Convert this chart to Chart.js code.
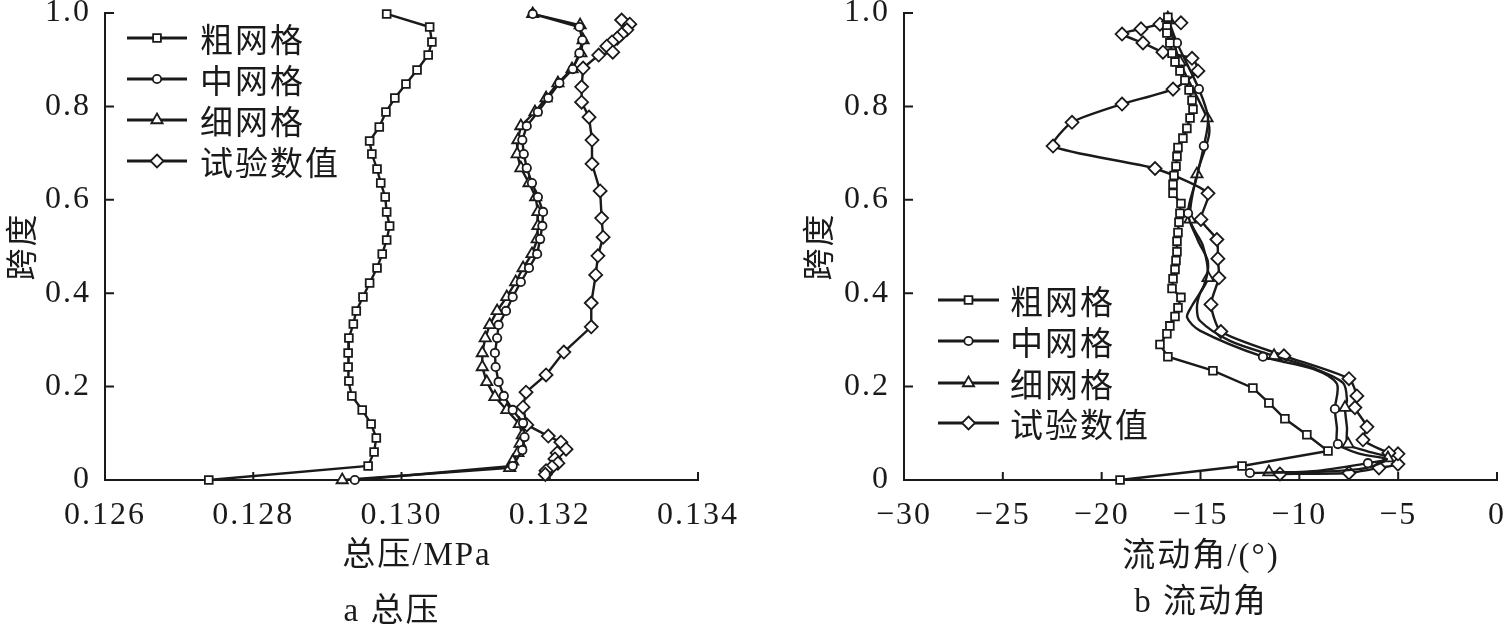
<!DOCTYPE html>
<html>
<head>
<meta charset="utf-8">
<script src="https://cdn.jsdelivr.net/npm/chart.js@4.4.1/dist/chart.umd.min.js"></script>
<style>
  html, body { margin: 0; padding: 0; background: #fff; }
  body { width: 1509px; height: 630px; position: relative; overflow: hidden; }
  .box { position: absolute; top: 0; }
  #boxA { left: 0; }
  #boxB { left: 780px; }
</style>
</head>
<body>
<div class="box" id="boxA"><canvas id="chartA" width="760" height="630"></canvas></div>
<div class="box" id="boxB"><canvas id="chartB" width="729" height="630"></canvas></div>
<script>
// ---- data: (a) total pressure vs span ----
const seriesNames = ['粗网格', '中网格', '细网格', '试验数值'];
const spanTicks = [0, 0.2, 0.4, 0.6, 0.8, 1.0];
const pressTicks = [0.126, 0.128, 0.130, 0.132, 0.134];
const angleTicks = [-30, -25, -20, -15, -10, -5, 0];

const spanCoarseA = [0.998, 0.970, 0.938, 0.910, 0.878, 0.848, 0.818, 0.788, 0.756, 0.726, 0.698, 0.666, 0.636, 0.606, 0.574, 0.544, 0.514, 0.484, 0.454, 0.422, 0.392, 0.362, 0.334, 0.304, 0.272, 0.242, 0.212, 0.180, 0.150, 0.120, 0.090, 0.060, 0.030, 0];
const pressCoarse = [0.12980, 0.13038, 0.13041, 0.13036, 0.13021, 0.13006, 0.12991, 0.12979, 0.12970, 0.12957, 0.12960, 0.12967, 0.12972, 0.12978, 0.12980, 0.12984, 0.12980, 0.12974, 0.12967, 0.12957, 0.12948, 0.12939, 0.12935, 0.12929, 0.12928, 0.12928, 0.12929, 0.12933, 0.12947, 0.12959, 0.12966, 0.12963, 0.12955, 0.12740];

const spanMediumA = [0.998, 0.970, 0.942, 0.914, 0.880, 0.850, 0.818, 0.788, 0.758, 0.728, 0.698, 0.668, 0.636, 0.606, 0.574, 0.544, 0.516, 0.484, 0.454, 0.424, 0.392, 0.362, 0.332, 0.304, 0.272, 0.242, 0.210, 0.180, 0.150, 0.122, 0.092, 0.064, 0.030, 0];
const pressMedium = [0.13177, 0.13240, 0.13244, 0.13240, 0.13231, 0.13213, 0.13198, 0.13184, 0.13169, 0.13163, 0.13165, 0.13169, 0.13176, 0.13184, 0.13191, 0.13190, 0.13187, 0.13183, 0.13172, 0.13161, 0.13150, 0.13141, 0.13131, 0.13129, 0.13126, 0.13127, 0.13131, 0.13138, 0.13150, 0.13164, 0.13166, 0.13163, 0.13150, 0.12937];

const spanFineA = [0.998, 0.974, 0.942, 0.914, 0.880, 0.850, 0.818, 0.788, 0.758, 0.728, 0.698, 0.668, 0.636, 0.606, 0.574, 0.544, 0.516, 0.484, 0.454, 0.424, 0.392, 0.362, 0.332, 0.304, 0.272, 0.242, 0.210, 0.178, 0.150, 0.120, 0.096, 0.078, 0.058, 0.040, 0.026, 0];
const pressFine = [0.13177, 0.13241, 0.13245, 0.13242, 0.13230, 0.13211, 0.13195, 0.13180, 0.13161, 0.13157, 0.13156, 0.13161, 0.13172, 0.13181, 0.13184, 0.13184, 0.13183, 0.13176, 0.13164, 0.13154, 0.13142, 0.13129, 0.13119, 0.13113, 0.13109, 0.13109, 0.13115, 0.13126, 0.13142, 0.13159, 0.13163, 0.13160, 0.13157, 0.13150, 0.13146, 0.12920];

const spanTestA = [0.985, 0.976, 0.964, 0.955, 0.946, 0.938, 0.929, 0.916, 0.910, 0.882, 0.842, 0.809, 0.777, 0.728, 0.677, 0.619, 0.561, 0.520, 0.480, 0.439, 0.379, 0.328, 0.274, 0.225, 0.188, 0.156, 0.118, 0.094, 0.081, 0.066, 0.058, 0.045, 0.036, 0.028, 0.020, 0.012];
const pressTest = [0.13297, 0.13308, 0.13304, 0.13297, 0.13291, 0.13284, 0.13277, 0.13285, 0.13266, 0.13245, 0.13243, 0.13243, 0.13253, 0.13257, 0.13257, 0.13268, 0.13270, 0.13272, 0.13265, 0.13262, 0.13256, 0.13256, 0.13219, 0.13195, 0.13168, 0.13164, 0.13169, 0.13198, 0.13215, 0.13222, 0.13210, 0.13207, 0.13211, 0.13203, 0.13195, 0.13194];

// ---- data: (b) flow angle vs span ----
const spanCoarseB = [0.991, 0.970, 0.957, 0.936, 0.914, 0.895, 0.876, 0.856, 0.835, 0.813, 0.794, 0.775, 0.753, 0.732, 0.712, 0.693, 0.672, 0.652, 0.633, 0.614, 0.592, 0.571, 0.552, 0.530, 0.511, 0.489, 0.470, 0.451, 0.431, 0.410, 0.391, 0.369, 0.350, 0.330, 0.313, 0.290, 0.264, 0.234, 0.197, 0.165, 0.131, 0.097, 0.062, 0.030, 0];
const angleCoarse = [-16.65, -16.70, -16.70, -16.55, -16.44, -16.29, -16.04, -15.79, -15.58, -15.43, -15.38, -15.53, -15.69, -15.89, -16.14, -16.19, -16.24, -16.34, -16.39, -16.39, -15.99, -16.04, -16.09, -16.14, -16.19, -16.19, -16.24, -16.29, -16.39, -16.44, -15.99, -16.14, -16.29, -16.55, -16.70, -17.05, -16.65, -14.37, -12.35, -11.54, -10.73, -9.62, -8.55, -12.90, -19.07];

const spanMediumB = [0.989, 0.936, 0.837, 0.775, 0.715, 0.642, 0.571, 0.513, 0.466, 0.416, 0.373, 0.348, 0.320, 0.264, 0.238, 0.206, 0.152, 0.112, 0.077, 0.056, 0.045, 0.036, 0.019, 0.015];
const angleMedium = [-16.65, -16.19, -15.08, -14.62, -14.83, -15.23, -15.63, -15.13, -14.62, -14.83, -15.43, -15.68, -15.03, -11.84, -9.31, -8.10, -8.20, -8.10, -8.05, -6.93, -5.57, -6.53, -9.31, -12.50];

const spanFineB = [0.989, 0.895, 0.775, 0.738, 0.655, 0.558, 0.502, 0.433, 0.399, 0.369, 0.341, 0.298, 0.266, 0.240, 0.208, 0.170, 0.155, 0.112, 0.077, 0.062, 0.047, 0.026, 0.017, 0.017];
const angleFine = [-16.65, -16.04, -14.67, -14.57, -15.18, -15.53, -14.88, -14.62, -15.03, -15.18, -15.03, -13.51, -11.28, -9.31, -7.79, -7.59, -7.69, -7.59, -7.54, -6.58, -5.52, -6.58, -9.31, -11.54];

const spanTestB = [0.013, 0.015, 0.026, 0.034, 0.056, 0.058, 0.086, 0.114, 0.155, 0.180, 0.217, 0.266, 0.318, 0.376, 0.433, 0.474, 0.515, 0.558, 0.614, 0.667, 0.715, 0.766, 0.805, 0.837, 0.876, 0.903, 0.916, 0.936, 0.955, 0.966, 0.976, 0.979];
const angleTest = [-10.98, -7.49, -5.97, -5.01, -5.01, -5.47, -6.78, -6.58, -7.19, -7.09, -7.49, -10.78, -13.97, -14.47, -14.07, -14.12, -14.17, -14.98, -14.62, -17.30, -22.46, -21.50, -18.97, -16.39, -15.13, -15.43, -16.90, -17.91, -18.97, -18.01, -17.05, -15.99];

// ---- styling ----
const INK = '#1a1a1a';
const SERIF = "'Liberation Serif', 'Times New Roman', serif";
const MIXED = "'Liberation Serif', 'Noto Sans CJK SC', serif";
const CJK = "'Noto Sans CJK SC', sans-serif";
const markerSize = { rect: 5.5, circle: 4.2, triangle: 6.5, rectRot: 6.5 };
const styles = ['rect', 'circle', 'triangle', 'rectRot'];

function points(vals, spans) {
  return vals.map((v, i) => ({ x: v, y: spans[i] }));
}

function series(idx, vals, spans, extra = {}) {
  const style = styles[idx];
  return Object.assign({
    label: seriesNames[idx],
    data: points(vals, spans),
    showLine: true,
    borderColor: INK,
    borderWidth: 2.4,
    tension: 0,
    pointStyle: style,
    pointRadius: markerSize[style],
    pointBorderWidth: 1.8,
    pointBorderColor: INK,
    pointBackgroundColor: '#fff',
    clip: false
  }, extra);
}

// marker only on the listed indices (curves drawn smooth with sparse symbols)
function markAt(list, r) {
  const set = new Set(list);
  return ctx => set.has(ctx.dataIndex) ? r : 0;
}

function drawMarker(ctx, style, x, y, r) {
  ctx.beginPath();
  if (style === 'rect') {
    const s = r * Math.SQRT1_2;
    ctx.rect(x - s, y - s, 2 * s, 2 * s);
  } else if (style === 'circle') {
    ctx.arc(x, y, r, 0, Math.PI * 2);
  } else if (style === 'triangle') {
    ctx.moveTo(x, y - r);
    ctx.lineTo(x + r * Math.sin(Math.PI * 2 / 3), y - r * Math.cos(Math.PI * 2 / 3));
    ctx.lineTo(x - r * Math.sin(Math.PI * 2 / 3), y - r * Math.cos(Math.PI * 2 / 3));
    ctx.closePath();
  } else {
    ctx.moveTo(x, y - r);
    ctx.lineTo(x + r, y);
    ctx.lineTo(x, y + r);
    ctx.lineTo(x - r, y);
    ctx.closePath();
  }
  ctx.fillStyle = '#fff';
  ctx.fill();
  ctx.lineWidth = 1.8;
  ctx.strokeStyle = INK;
  ctx.stroke();
}

// inner ticks, legend and captions in the style of the paper figure
const paperPlugin = {
  id: 'paper',
  beforeDraw(chart) {
    chart.ctx.letterSpacing = '2px';
  },
  afterDraw(chart, args, opts) {
    const ctx = chart.ctx;
    const { left, bottom } = chart.chartArea;
    const xs = chart.scales.x;
    const ys = chart.scales.y;
    ctx.save();
    ctx.strokeStyle = INK;
    ctx.lineWidth = 2;
    ctx.beginPath();
    xs.ticks.forEach(t => {
      const p = xs.getPixelForValue(t.value);
      if (p - left > 2) { ctx.moveTo(p, bottom); ctx.lineTo(p, bottom - 8); }
    });
    ys.ticks.forEach(t => {
      const p = ys.getPixelForValue(t.value);
      if (bottom - p > 2) { ctx.moveTo(left, p); ctx.lineTo(left + 9, p); }
    });
    ctx.stroke();

    const lg = opts.legend;
    chart.data.datasets.forEach((ds, i) => {
      const y = lg.rows[i];
      ctx.beginPath();
      ctx.moveTo(lg.x1, y);
      ctx.lineTo(lg.x2, y);
      ctx.lineWidth = 3;
      ctx.strokeStyle = INK;
      ctx.stroke();
      drawMarker(ctx, ds.pointStyle, (lg.x1 + lg.x2) / 2, y, markerSize[ds.pointStyle]);
      ctx.fillStyle = INK;
      ctx.font = "33px " + CJK;
      ctx.textAlign = 'left';
      ctx.textBaseline = 'middle';
      ctx.fillText(ds.label, lg.text, y + 1);
    });

    ctx.fillStyle = INK;
    ctx.font = "33px " + MIXED;
    ctx.textAlign = 'center';
    ctx.textBaseline = 'middle';
    opts.captions.forEach(c => ctx.fillText(c.text, c.x, c.y));
    ctx.restore();
  }
};

function spanAxis(width, titlePad) {
  return {
    min: 0,
    max: 1,
    afterBuildTicks: s => { s.ticks = spanTicks.map(v => ({ value: v })); },
    afterFit: s => { s.width = width; s.paddingTop = 0; s.paddingBottom = 0; },
    grid: { display: false, drawTicks: false },
    border: { display: true, color: INK, width: 2 },
    ticks: {
      color: INK,
      padding: 14,
      font: { family: SERIF, size: 32 },
      callback: v => v === 0 ? '0' : v.toFixed(1)
    },
    title: {
      display: true,
      text: '跨度',
      color: INK,
      padding: { top: titlePad, bottom: 0 },
      font: { family: CJK, size: 32 }
    }
  };
}

function valueAxis(min, max, tickList, fmt) {
  return {
    type: 'linear',
    min: min,
    max: max,
    afterBuildTicks: s => { s.ticks = tickList.map(v => ({ value: v })); },
    afterFit: s => { s.height = 150; s.paddingLeft = 0; s.paddingRight = 0; },
    grid: { display: false, drawTicks: false },
    border: { display: true, color: INK, width: 2 },
    ticks: { color: INK, padding: 16, font: { family: SERIF, size: 32 }, callback: fmt }
  };
}

function makeChart(id, datasets, xAxis, yAxis, padRight, paper) {
  return new Chart(document.getElementById(id), {
    type: 'scatter',
    data: { datasets },
    options: {
      responsive: false,
      animation: false,
      events: [],
      layout: { padding: { top: 13, right: padRight, bottom: 0, left: 0 } },
      scales: { x: xAxis, y: yAxis },
      plugins: { legend: { display: false }, tooltip: { enabled: false }, paper }
    },
    plugins: [paperPlugin]
  });
}

makeChart('chartA', [
  series(0, pressCoarse, spanCoarseA),
  series(1, pressMedium, spanMediumA),
  series(2, pressFine, spanFineA),
  series(3, pressTest, spanTestA)
], valueAxis(0.126, 0.134, pressTicks, v => v.toFixed(3)), spanAxis(105, 2), 62, {
  legend: { x1: 127, x2: 187, text: 200, rows: [38, 79, 120, 161] },
  captions: [
    { text: '总压/MPa', x: 417, y: 556 },
    { text: 'a 总压', x: 392, y: 612 }
  ]
});

makeChart('chartB', [
  series(0, angleCoarse, spanCoarseB),
  series(1, angleMedium, spanMediumB, { tension: 0.3, pointRadius: markAt([1, 2, 4, 6, 13, 16, 18, 21, 23], markerSize.circle) }),
  series(2, angleFine, spanFineB, { tension: 0.3, pointRadius: markAt([0, 1, 2, 4, 5, 7, 12, 16, 18, 20, 23], markerSize.triangle) }),
  series(3, angleTest, spanTestB, { tension: 0.2 })
], valueAxis(-30, 0, angleTicks, v => v < 0 ? '\u2212' + Math.abs(v) : String(v)), spanAxis(124, 19), 12, {
  legend: { x1: 158, x2: 219, text: 230, rows: [300, 341, 383, 423] },
  captions: [
    { text: '流动角/(°)', x: 421, y: 557 },
    { text: 'b 流动角', x: 421, y: 603 }
  ]
});
</script>
</body>
</html>
